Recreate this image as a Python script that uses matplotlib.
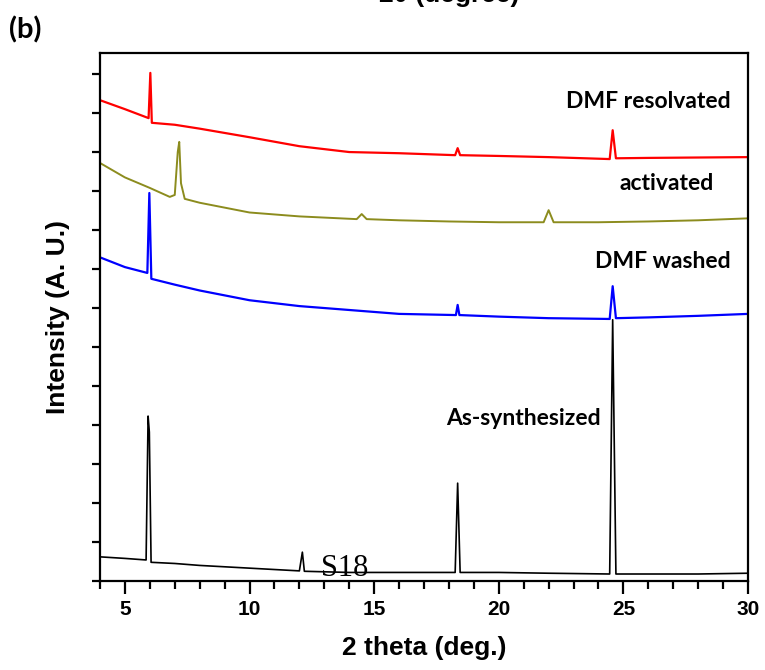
import matplotlib
matplotlib.use('Agg')
import matplotlib.pyplot as plt
from matplotlib.ticker import MultipleLocator, NullFormatter

# As-synthesized (black)
x_as = [4.0, 5.0, 5.85, 5.93, 5.98, 6.05, 7.0, 8.0, 10.0, 12.0, 12.12, 12.2,
        14.0, 16.0, 18.25, 18.35, 18.45, 20.0, 22.0, 24.45, 24.57, 24.7,
        26.0, 28.0, 30.0]
y_as = [0.62, 0.58, 0.54, 4.23, 3.82, 0.48, 0.45, 0.40, 0.33, 0.26, 0.74, 0.25,
        0.22, 0.22, 0.22, 2.51, 0.22, 0.22, 0.20, 0.18, 6.70, 0.18,
        0.18, 0.18, 0.20]

# DMF washed (blue)
x_wash = [4.0, 5.0, 5.9, 5.98, 6.06, 7.0, 8.0, 10.0, 12.0, 14.0, 16.0,
          18.28, 18.35, 18.42, 20.0, 22.0, 24.45, 24.57, 24.7, 26.0, 28.0, 30.0]
y_wash = [8.30, 8.05, 7.90, 9.95, 7.75, 7.60, 7.45, 7.20, 7.05, 6.95, 6.85,
          6.82, 7.08, 6.82, 6.78, 6.74, 6.72, 7.56, 6.74, 6.76, 6.80, 6.85]

# activated (olive)
x_act = [4.0, 5.0, 6.0, 6.8, 7.0, 7.12, 7.18, 7.25, 7.4, 8.0, 10.0, 12.0,
         14.3, 14.5, 14.7, 16.0, 18.0, 20.0, 21.8, 22.0, 22.2, 24.0, 26.0,
         28.0, 30.0]
y_act = [10.72, 10.35, 10.08, 9.85, 9.90, 11.00, 11.26, 10.20, 9.80, 9.70,
         9.45, 9.35, 9.28, 9.41, 9.28, 9.25, 9.22, 9.20, 9.20, 9.51, 9.20,
         9.20, 9.22, 9.25, 9.30]

# DMF resolvated (red)
x_res = [4.0, 5.0, 5.95, 6.02, 6.08, 7.0, 8.0, 10.0, 12.0, 14.0, 16.0,
         18.25, 18.35, 18.45, 20.0, 22.0, 24.45, 24.57, 24.7, 26.0, 28.0, 30.0]
y_res = [12.33, 12.10, 11.87, 13.03, 11.75, 11.70, 11.60, 11.38, 11.15, 11.00,
         10.97, 10.92, 11.10, 10.92, 10.90, 10.87, 10.82, 11.56, 10.84, 10.85,
         10.86, 10.87]

fig = plt.figure(figsize=(7.65, 6.7), dpi=100)
ax = fig.add_axes([0.1307, 0.1328, 0.8471, 0.7881])

ax.plot(x_as, y_as, color='black', lw=1.2)
ax.plot(x_wash, y_wash, color='#0000ff', lw=1.6)
ax.plot(x_act, y_act, color='#8c8c1e', lw=1.4)
ax.plot(x_res, y_res, color='#ff0000', lw=1.6)

ax.set_xlim(4, 30)
ax.set_ylim(0, 13.54)
ax.xaxis.set_major_locator(MultipleLocator(5))
ax.xaxis.set_minor_locator(MultipleLocator(1))
ax.yaxis.set_major_locator(MultipleLocator(1))
ax.yaxis.set_major_formatter(NullFormatter())
ax.tick_params(axis='x', which='major', direction='out', length=9, width=1.6,
               labelsize=15, pad=5)
ax.tick_params(axis='x', which='minor', direction='out', length=6, width=1.6)
ax.tick_params(axis='y', direction='out', length=6, width=1.6)
for lab in ax.get_xticklabels():
    lab.set_fontweight('bold')
    lab.set_family('Liberation Sans')
for sp in ax.spines.values():
    sp.set_linewidth(1.6)

ax.set_xlabel('2 theta (deg.)', fontsize=19, fontweight='bold',
              family='Liberation Sans', labelpad=12)
ax.set_ylabel('Intensity (A. U.)', fontsize=19, fontweight='bold',
              family='Liberation Sans', labelpad=12)

lbl = dict(fontsize=16.5, fontweight='bold', family='Lato', ha='center', va='center')
ax.text(26.0, 12.3, 'DMF resolvated', **lbl)
ax.text(26.75, 10.2, 'activated', **lbl)
ax.text(26.6, 8.2, 'DMF washed', **lbl)
ax.text(20.97, 4.17, 'As-synthesized', **lbl)
ax.text(13.8, 0.31, 'S18', fontsize=22, family='Liberation Serif',
        ha='center', va='center')

fig.text(0.012, 0.955, '(b)', fontsize=21, fontweight='bold', family='Lato',
         ha='left', va='center')
fig.text(0.587, 0.997, '2θ (degree)', fontsize=19, fontweight='bold',
         family='Liberation Sans', ha='center', va='baseline')

fig.savefig('out.png', dpi=100)
